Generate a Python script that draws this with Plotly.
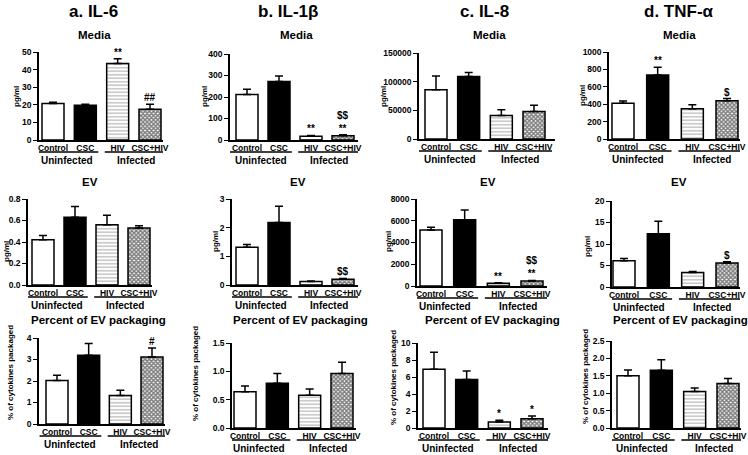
import plotly.graph_objects as go

# ---------------- data ----------------
categories = ["Control", "CSC", "HIV", "CSC+HIV"]
groups = ["Uninfected", "Infected"]
panel_titles = ["a. IL-6", "b. IL-1β", "c. IL-8", "d. TNF-α"]
row_titles = ["Media", "EV", "Percent of EV packaging"]
y_titles = ["pg/ml", "pg/ml", "% of cytokines packaged"]

# Media (pg/ml)
il6_media = [20.8, 19.8, 43.5, 17.5]
il6_media_err = [0.6, 0.5, 2.6, 2.8]
il6_media_sig = ["", "", "**", "##"]
il1b_media = [212, 272, 18, 20]
il1b_media_err = [24, 26, 3, 5]
il1b_media_sig = ["", "", "**", "$$<br>**"]
il8_media = [86000, 109000, 41000, 48000]
il8_media_err = [24000, 7000, 10000, 11000]
il8_media_sig = ["", "", "", ""]
tnf_media = [412, 735, 348, 440]
tnf_media_err = [25, 90, 45, 25]
tnf_media_sig = ["", "**", "", "$"]

# EV (pg/ml)
il6_ev = [0.42, 0.63, 0.56, 0.53]
il6_ev_err = [0.04, 0.10, 0.09, 0.02]
il6_ev_sig = ["", "", "", ""]
il1b_ev = [1.32, 2.18, 0.12, 0.20]
il1b_ev_err = [0.09, 0.57, 0.02, 0.03]
il1b_ev_sig = ["", "", "", "$$"]
il8_ev = [5150, 6100, 250, 450]
il8_ev_err = [250, 900, 50, 60]
il8_ev_sig = ["", "", "**", "$$<br>**"]
tnf_ev = [6.1, 12.4, 3.4, 5.6]
tnf_ev_err = [0.5, 2.9, 0.2, 0.3]
tnf_ev_sig = ["", "", "", "$"]

# Percent of EV packaging
il6_pct = [2.02, 3.20, 1.32, 3.12]
il6_pct_err = [0.25, 0.55, 0.25, 0.42]
il6_pct_sig = ["", "", "", "#"]
il1b_pct = [0.64, 0.79, 0.58, 0.96]
il1b_pct_err = [0.10, 0.17, 0.11, 0.20]
il1b_pct_sig = ["", "", "", ""]
il8_pct = [6.9, 5.7, 0.7, 1.1]
il8_pct_err = [2.0, 1.0, 0.2, 0.3]
il8_pct_sig = ["", "", "*", "*"]
tnf_pct = [1.50, 1.66, 1.05, 1.28]
tnf_pct_err = [0.17, 0.30, 0.10, 0.14]
tnf_pct_sig = ["", "", "", ""]

# y-axis scales (max, tick step, format)
y_max = [[50, 400, 150000, 1000], [0.8, 3, 8000, 20], [4, 1.5, 10, 2.5]]
y_step = [[10, 100, 50000, 200], [0.2, 1, 2000, 5], [1, 0.5, 2, 0.5]]
y_fmt = [["d", "d", "d", "d"], [".1f", "d", "d", "d"], ["d", ".1f", "d", ".1f"]]

values = [
    [(il6_media, il6_media_err, il6_media_sig), (il1b_media, il1b_media_err, il1b_media_sig),
     (il8_media, il8_media_err, il8_media_sig), (tnf_media, tnf_media_err, tnf_media_sig)],
    [(il6_ev, il6_ev_err, il6_ev_sig), (il1b_ev, il1b_ev_err, il1b_ev_sig),
     (il8_ev, il8_ev_err, il8_ev_sig), (tnf_ev, tnf_ev_err, tnf_ev_sig)],
    [(il6_pct, il6_pct_err, il6_pct_sig), (il1b_pct, il1b_pct_err, il1b_pct_sig),
     (il8_pct, il8_pct_err, il8_pct_sig), (tnf_pct, tnf_pct_err, tnf_pct_sig)],
]

# ---------------- layout geometry (pixels) ----------------
W, H = 748, 455
# (axis left, first bar left, last bar right, axis end)
px_panels = [
    [(39, 42, 161, 163), (230, 236, 354, 358), (419, 425, 545, 555), (609, 612, 738, 740)],
    [(28, 32, 150, 152), (232, 236, 354, 358), (417, 420, 543, 547), (612, 613, 738, 740)],
    [(39, 46, 163, 165), (232, 234, 353, 356), (418, 423, 543, 548), (612, 617, 739, 741)],
]
# (top, bottom) of each plot area
px_rows = [
    [(52, 140), (54, 140), (53, 139), (52, 139)],
    [(199, 285), (199, 285), (199, 286), (201, 287)],
    [(338, 424), (343, 428), (343, 428), (341, 428)],
]
# y-axis title centres (x, y)
px_ytitle = [
    [(16, 96), (204, 96), (383, 97), (582, 96)],
    [(6, 252), (215, 242), (388, 242), (588, 247)],
    [(10, 373), (195, 374), (393, 378), (585, 377)],
]
panel_title_x = [93, 288, 484, 679]
row_title_x = [[94, 296, 490, 679], [90, 298, 488, 679], [98, 300, 492, 680]]
row_title_y = [35, 182, 320]

BAR_PX = 22
FONT = "Liberation Sans, Arial, sans-serif"

def fx(p):
    return p / W

def fy(p):
    return 1 - p / H

fig = go.Figure()
layout = dict(
    template="none", barmode="overlay",
    width=W, height=H, margin=dict(l=0, r=0, t=0, b=0, pad=0, autoexpand=False),
    paper_bgcolor="white", plot_bgcolor="white", showlegend=False,
    font=dict(family=FONT, color="black", size=9, weight="bold"),
)
annotations = []
shapes = []

# bar styles per category: (fill colour, pattern shape, pattern fg, pattern size, solidity)
styles = [
    ("white", "", "black", 4, 0.3),
    ("black", "", "black", 4, 0.3),
    ("white", "-", "#8c8c8c", 3.5, 0.45),
    ("white", "x", "black", 3, 0.75),
]

k = 0
for r in range(3):
    for c in range(4):
        k += 1
        s = "" if k == 1 else str(k)
        top, bot = px_rows[r][c]
        L, first, last, end = px_panels[r][c]
        c0 = first + BAR_PX / 2
        c3 = last - BAR_PX / 2
        pitch = (c3 - c0) / 3
        xr = [(L - c0) / pitch, (end - c0) / pitch]
        bw = BAR_PX / pitch
        vals, errs, sigs = values[r][c]
        for i in range(4):
            col, shp, fg, sz, sol = styles[i]
            marker = dict(color=col, line=dict(color="black", width=1.5))
            if shp:
                marker["pattern"] = dict(shape=shp, fgcolor=fg, bgcolor=col, size=sz,
                                         solidity=sol, fillmode="overlay")
            fig.add_trace(go.Bar(
                x=[i], y=[vals[i]], width=bw, marker=marker,
                error_y=dict(type="data", array=[errs[i]], arrayminus=[0],
                             symmetric=False, color="black", thickness=1.5, width=4),
                xaxis="x" + s, yaxis="y" + s, hoverinfo="skip", name=categories[i],
            ))
        layout["xaxis" + s] = dict(
            domain=[fx(L), fx(end)], range=xr, anchor="y" + s,
            tickvals=[0, 1, 2, 3], ticktext=categories, automargin=False,
            showline=True, linecolor="black", linewidth=1.5,
            ticks="", ticklabelstandoff=-1,
            showgrid=False, zeroline=False,
            tickfont=dict(family=FONT, size=8.5, color="black", weight="bold"),
            fixedrange=True,
        )
        layout["yaxis" + s] = dict(
            domain=[fy(bot), fy(top)], range=[0, y_max[r][c]], anchor="x" + s,
            dtick=y_step[r][c], tick0=0, tickformat=y_fmt[r][c], automargin=False,
            showline=True, linecolor="black", linewidth=1.5,
            ticks="outside", ticklen=4, tickwidth=1.2, tickcolor="black",
            showgrid=False, zeroline=False,
            tickfont=dict(family=FONT, size=8.5, color="black", weight="bold"),
            fixedrange=True,
        )
        # y-axis title
        tx, ty = px_ytitle[r][c]
        annotations.append(dict(
            x=fx(tx), y=fy(ty), xref="paper", yref="paper", text=y_titles[r],
            textangle=-90, showarrow=False, xanchor="center", yanchor="middle",
            font=dict(family=FONT, size=8, weight="bold"),
        ))
        # significance marks
        for i in range(4):
            if sigs[i]:
                annotations.append(dict(
                    x=i, y=vals[i] + errs[i], xref="x" + s, yref="y" + s,
                    text=sigs[i], showarrow=False, xanchor="center", yanchor="bottom",
                    yshift=-1, font=dict(family=FONT, size=10, weight="bold"),
                ))
        # group lines and labels
        line_y = bot + 12
        label_y = bot + 20
        for g, (a, b) in enumerate([(-0.55, 1.4), (1.6, 3.55)]):
            shapes.append(dict(type="line", xref="x" + s, yref="paper",
                               x0=a, x1=b, y0=fy(line_y), y1=fy(line_y),
                               line=dict(color="black", width=1.3)))
            annotations.append(dict(
                x=(a + b) / 2, y=fy(label_y), xref="x" + s, yref="paper",
                text=groups[g], showarrow=False, xanchor="center", yanchor="middle",
                font=dict(family=FONT, size=10, weight="bold"),
            ))
        # row title
        annotations.append(dict(
            x=fx(row_title_x[r][c]), y=fy(row_title_y[r]), xref="paper", yref="paper",
            text=row_titles[r], showarrow=False, xanchor="center", yanchor="middle",
            font=dict(family=FONT, size=11.5, weight="bold"),
        ))

for c in range(4):
    annotations.append(dict(
        x=fx(panel_title_x[c]), y=fy(11), xref="paper", yref="paper",
        text=panel_titles[c], showarrow=False, xanchor="center", yanchor="middle",
        font=dict(family=FONT, size=17, weight="bold"),
    ))

layout["annotations"] = annotations
layout["shapes"] = shapes
fig.update_layout(**layout)
fig.write_html("out.html", config={"displayModeBar": False},
               post_script="document.body.style.margin='0';document.body.style.overflow='hidden';")
